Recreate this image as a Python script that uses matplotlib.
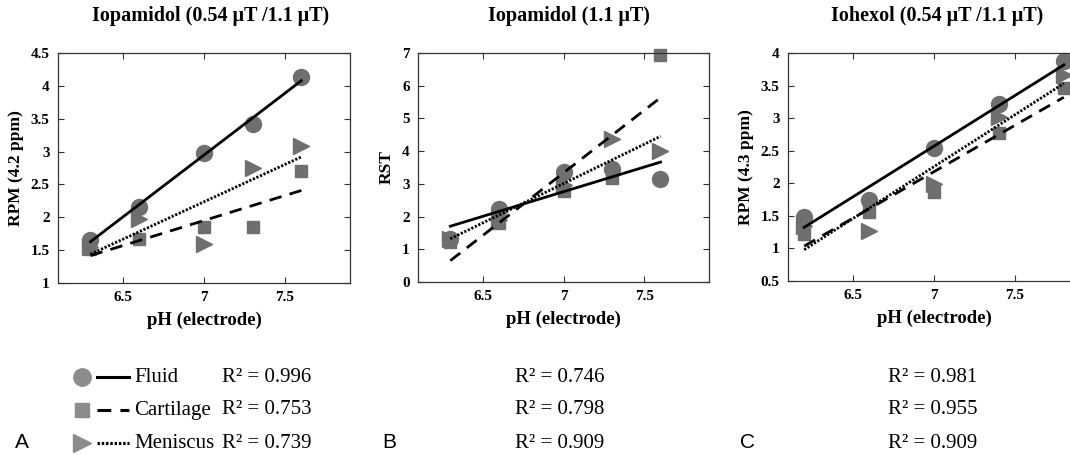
import numpy as np
import matplotlib
matplotlib.use("Agg")
import matplotlib.pyplot as plt
from matplotlib.lines import Line2D

# ---------------- data ----------------
titles = ["Iopamidol (0.54 μT /1.1 μT)", "Iopamidol (1.1 μT)", "Iohexol (0.54 μT /1.1 μT)"]
ylabels = ["RPM (4.2 ppm)", "RST", "RPM (4.3 ppm)"]
xlabel = "pH (electrode)"
series = ["Fluid", "Cartilage", "Meniscus"]
panel_letters = ["A", "B", "C"]

ph_a = [6.3, 6.6, 7.0, 7.3, 7.6]
fluid_a = [1.66, 2.16, 2.98, 3.42, 4.14]
cart_a = [1.52, 1.67, 1.85, 1.85, 2.71]
men_a = [1.55, 1.97, 1.59, 2.75, 3.09]

ph_b = [6.3, 6.6, 7.0, 7.3, 7.6]
fluid_b = [1.32, 2.22, 3.37, 3.45, 3.14]
cart_b = [1.21, 1.80, 2.78, 3.19, 6.93]
men_b = [1.30, 1.90, 2.98, 4.37, 4.01]

ph_c = [6.2, 6.6, 7.0, 7.4, 7.8]
fluid_c = [1.49, 1.74, 2.54, 3.21, 3.87]
cart_c = [1.22, 1.56, 1.87, 2.77, 3.47]
men_c = [1.35, 1.26, 1.99, 3.02, 3.66]

r2_a = ["0.996", "0.753", "0.739"]
r2_b = ["0.746", "0.798", "0.909"]
r2_c = ["0.981", "0.955", "0.909"]

xticks = [6.5, 7, 7.5]
yticks_a = [1, 1.5, 2, 2.5, 3, 3.5, 4, 4.5]
yticks_b = [0, 1, 2, 3, 4, 5, 6, 7]
yticks_c = [0.5, 1, 1.5, 2, 2.5, 3, 3.5, 4]
ylims = [(1, 4.5), (0, 7), (0.5, 4)]
xlim = (6.1, 7.9)

# ---------------- style ----------------
W, H = 1070, 455
fig = plt.figure(figsize=(W / 100, H / 100), dpi=100)
fig.patch.set_facecolor("white")
SERIF = ["Liberation Serif", "DejaVu Serif"]
SANS = ["Liberation Sans", "DejaVu Sans"]
mcol = "#6f6f6f"
markers = ["o", "s", ">"]
msizes = [11.5, 8.5, 11.5]
lstyles = ["-", (0, (4.5, 3)), (0, (0.8, 0.6))]
lwidths = [2.0, 2.0, 2.0]

# axes boxes in pixels: left, right, top, bottom
boxes = [(58, 350, 53, 283), (418, 709, 53, 282), (788, 1080, 53, 281)]

panels = [
    (ph_a, [fluid_a, cart_a, men_a], yticks_a),
    (ph_b, [fluid_b, cart_b, men_b], yticks_b),
    (ph_c, [fluid_c, cart_c, men_c], yticks_c),
]


def fmt(v):
    return ("%g" % v)


for i, ((xs, ys_list, yt), (l, r, t, b)) in enumerate(zip(panels, boxes)):
    ax = fig.add_axes([l / W, 1 - b / H, (r - l) / W, (b - t) / H])
    ax.set_xlim(*xlim)
    ax.set_ylim(*ylims[i])
    x = np.array(xs)
    for k in [2, 1, 0]:
        ax.plot(x, ys_list[k], linestyle="none", marker=markers[k], ms=msizes[k],
                mfc=mcol, mec=mcol, zorder=2 + (2 - k) * 0.1, clip_on=False)
    for k in [2, 1, 0]:
        p = np.polyfit(x, np.array(ys_list[k]), 1)
        xx = np.array([x[0], x[-1]])
        ax.plot(xx, np.polyval(p, xx), color="black", linestyle=lstyles[k],
                lw=lwidths[k], zorder=4)
    ax.set_xticks(xticks)
    ax.set_xticklabels([fmt(v) for v in xticks])
    ax.set_yticks(yt)
    ax.set_yticklabels([fmt(v) for v in yt])
    ax.tick_params(direction="in", top=True, right=True, length=4, width=0.8,
                   color="#333333", pad=6)
    for lab in ax.get_xticklabels() + ax.get_yticklabels():
        lab.set_fontfamily(SERIF)
        lab.set_fontweight("bold")
        lab.set_fontsize(11)
    for s in ax.spines.values():
        s.set_linewidth(0.9)
        s.set_color("#333333")
    ax.set_xlabel(xlabel, fontfamily=SERIF, fontweight="bold", fontsize=13.5, labelpad=5)
    ax.set_ylabel(ylabels[i], fontfamily=SERIF, fontweight="bold", fontsize=12.5, labelpad=5)

# titles (centered at pixel x)
title_x = [211, 569, 937]
for tx, tt in zip(title_x, titles):
    fig.text(tx / W, 1 - 16 / H, tt, ha="center", va="center", fontfamily=SERIF,
             fontweight="bold", fontsize=14.5)

# bottom legend / R^2 text
row_y = [377, 410, 443]
r2_all = [r2_a, r2_b, r2_c]
r2_x = [222, 515, 888]
for k in range(3):
    y = 1 - row_y[k] / H
    fig.add_artist(Line2D([82 / W], [y], marker=markers[k], ms=msizes[k] + 1,
                          mfc="#8c8c8c", mec="#8c8c8c", linestyle="none",
                          transform=fig.transFigure))
    fig.add_artist(Line2D([97 / W, 129 / W], [y, y], color="black",
                          linestyle=lstyles[k], lw=2.2, transform=fig.transFigure))
    fig.text(134 / W, y, series[k], ha="left", va="center", fontfamily=SERIF, fontsize=15)
    for p in range(3):
        fig.text(r2_x[p] / W, y, "R² = " + r2_all[p][k], ha="left", va="center",
                 fontfamily=SERIF, fontsize=15)

letter_x = [15, 382, 740]
for lx, lt in zip(letter_x, panel_letters):
    fig.text(lx / W, 1 - 443 / H, lt, ha="left", va="center", fontfamily=SANS, fontsize=15)

fig.savefig("out.png", dpi=100)
